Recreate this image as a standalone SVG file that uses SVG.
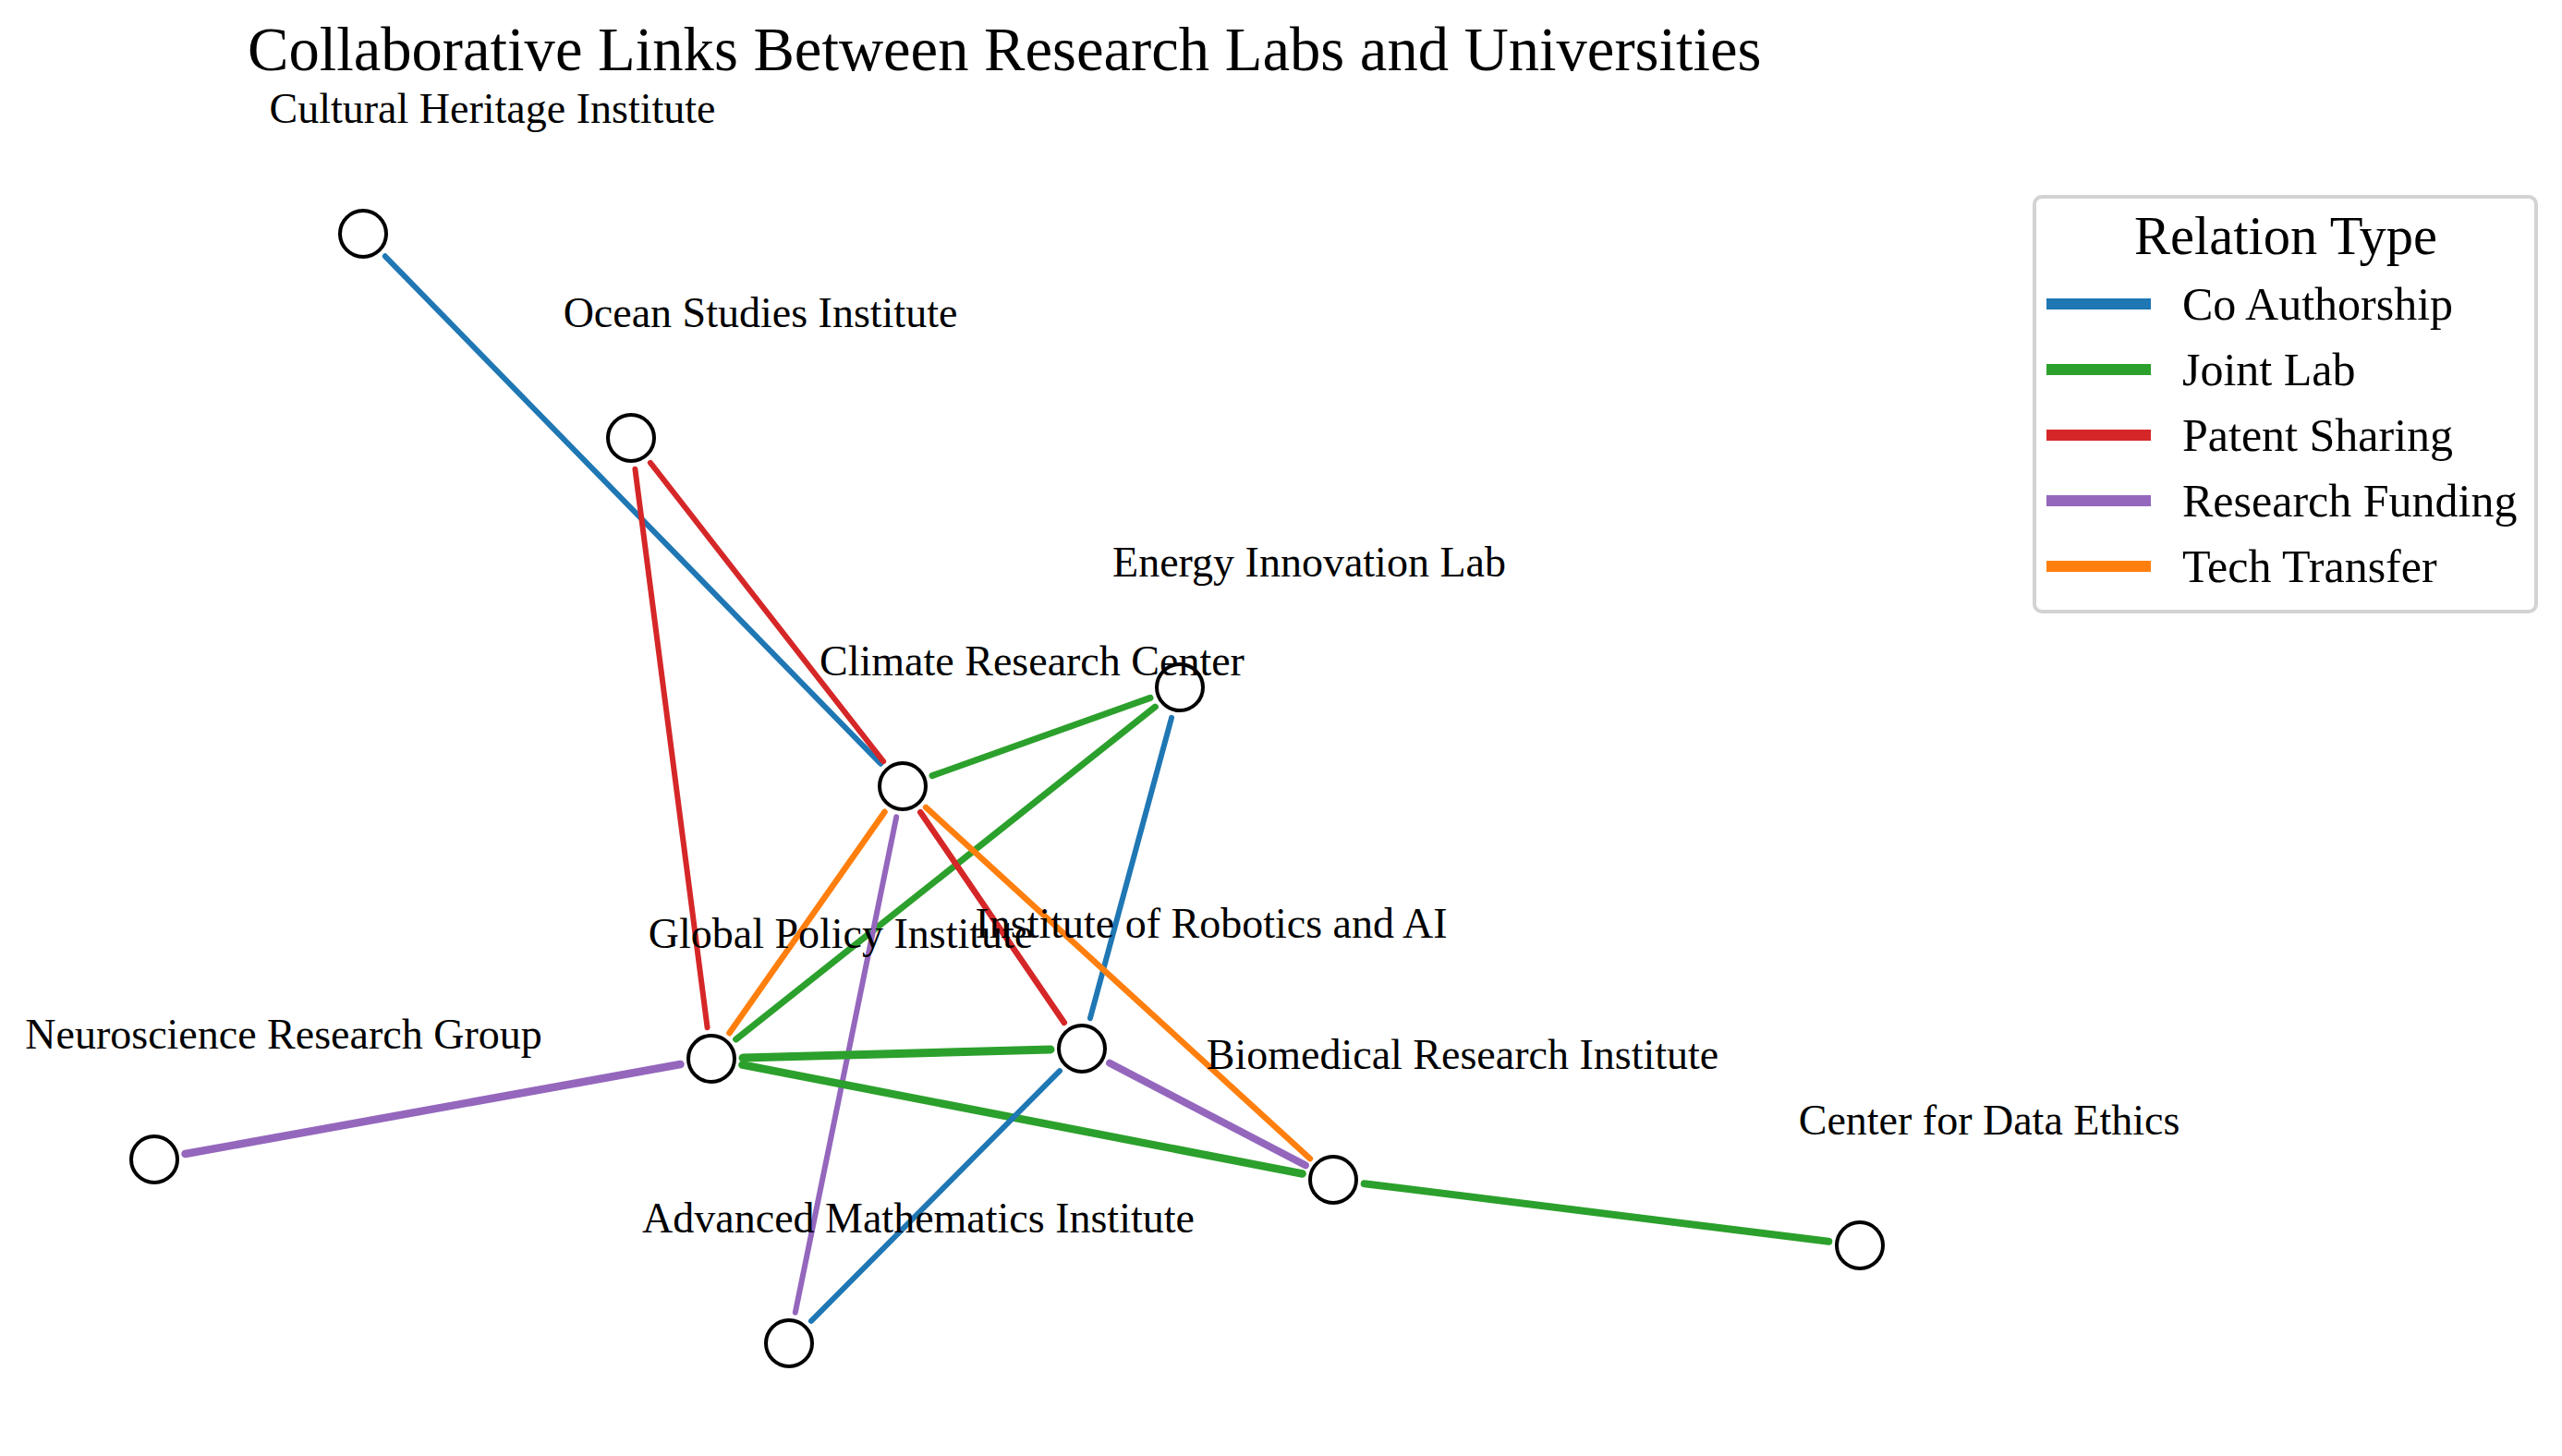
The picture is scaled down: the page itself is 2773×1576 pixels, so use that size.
<svg xmlns="http://www.w3.org/2000/svg" width="2773" height="1576" viewBox="0 0 2773 1576">
<style>
text{font-family:"Liberation Serif","Times New Roman",serif;fill:#000}
.title{font-size:66.6px}
.lbl{font-size:46px;text-anchor:middle}
.lt{font-size:58.5px;text-anchor:middle}
.li{font-size:50px}
.e{fill:none;stroke-linecap:round}
.co{stroke:#1f77b4}
.jl{stroke:#2ca02c}
.ps{stroke:#d62728}
.rf{stroke:#9467bd}
.tt{stroke:#ff7f0e}
.n{fill:#fff;stroke:#000;stroke-width:4}
.lg{stroke-width:12}
</style>
<rect width="2773" height="1576" fill="#fff"/>
<text class="title" x="268" y="76">Collaborative Links Between Research Labs and Universities</text>
<g id="connectors">
<line class="e co" stroke-width="6" x1="416.8" y1="277.3" x2="953.2" y2="826.7"/>
<line class="e ps" stroke-width="6" x1="703.9" y1="500.8" x2="956.1" y2="824.2"/>
<line class="e ps" stroke-width="6" x1="687.4" y1="507.7" x2="765.6" y2="1112.3"/>
<line class="e jl" stroke-width="7" x1="1009" y1="839.6" x2="1245" y2="755.4"/>
<line class="e jl" stroke-width="7" x1="796.6" y1="1124.9" x2="1250.4" y2="765.1"/>
<line class="e co" stroke-width="6" x1="1268.1" y1="776.8" x2="1179.9" y2="1102.2"/>
<line class="e tt" stroke-width="6.5" x1="957.5" y1="878.8" x2="789.5" y2="1118.2"/>
<line class="e rf" stroke-width="6" x1="970.2" y1="884.3" x2="860.8" y2="1420.7"/>
<line class="e ps" stroke-width="6.5" x1="996.2" y1="879.1" x2="1151.8" y2="1106.9"/>
<line class="e tt" stroke-width="6.5" x1="1002.1" y1="873.9" x2="1417.9" y2="1254.1"/>
<line class="e jl" stroke-width="9" x1="804" y1="1145.1" x2="1137" y2="1135.9"/>
<line class="e jl" stroke-width="8.5" x1="803.4" y1="1152.5" x2="1409.6" y2="1270.5"/>
<line class="e rf" stroke-width="8" x1="1201.1" y1="1150.7" x2="1412.9" y2="1261.3"/>
<line class="e co" stroke-width="6" x1="1147" y1="1159.1" x2="878" y2="1429.9"/>
<line class="e rf" stroke-width="8.5" x1="200.5" y1="1249" x2="736.5" y2="1152"/>
<line class="e jl" stroke-width="8" x1="1476.7" y1="1281.2" x2="1979.3" y2="1343.8"/>
</g>
<g id="node-cultural-heritage"><circle class="n" cx="393" cy="253" r="25"/></g>
<g id="node-ocean-studies"><circle class="n" cx="683" cy="474" r="25"/></g>
<g id="node-energy-innovation"><circle class="n" cx="1277" cy="744" r="25"/></g>
<g id="node-climate-research"><circle class="n" cx="977" cy="851" r="25"/></g>
<g id="node-global-policy"><circle class="n" cx="770" cy="1146" r="25"/></g>
<g id="node-robotics-ai"><circle class="n" cx="1171" cy="1135" r="25"/></g>
<g id="node-biomedical"><circle class="n" cx="1443" cy="1277" r="25"/></g>
<g id="node-neuroscience"><circle class="n" cx="167" cy="1255" r="25"/></g>
<g id="node-data-ethics"><circle class="n" cx="2013" cy="1348" r="25"/></g>
<g id="node-advanced-math"><circle class="n" cx="854" cy="1454" r="25"/></g>
<g id="labels">
<text class="lbl" x="533" y="133">Cultural Heritage Institute</text>
<text class="lbl" x="823" y="354">Ocean Studies Institute</text>
<text class="lbl" x="1417" y="624">Energy Innovation Lab</text>
<text class="lbl" x="1117" y="731">Climate Research Center</text>
<text class="lbl" x="910" y="1026">Global Policy Institute</text>
<text class="lbl" x="1311" y="1015">Institute of Robotics and AI</text>
<text class="lbl" x="1583" y="1157">Biomedical Research Institute</text>
<text class="lbl" x="307" y="1135">Neuroscience Research Group</text>
<text class="lbl" x="2153" y="1228">Center for Data Ethics</text>
<text class="lbl" x="994" y="1334">Advanced Mathematics Institute</text>
</g>
<g id="legend">
<rect x="2202" y="213" width="543" height="449" rx="8" fill="#fff" stroke="#d3d3d3" stroke-width="4"/>
<text class="lt" x="2474" y="275">Relation Type</text>
<line class="lg" x1="2215" y1="329" x2="2328" y2="329" stroke="#1f77b4"/>
<text class="li" x="2362" y="346">Co Authorship</text>
<line class="lg" x1="2215" y1="400" x2="2328" y2="400" stroke="#2ca02c"/>
<text class="li" x="2362" y="417">Joint Lab</text>
<line class="lg" x1="2215" y1="471" x2="2328" y2="471" stroke="#d62728"/>
<text class="li" x="2362" y="488">Patent Sharing</text>
<line class="lg" x1="2215" y1="542" x2="2328" y2="542" stroke="#9467bd"/>
<text class="li" x="2362" y="559">Research Funding</text>
<line class="lg" x1="2215" y1="613" x2="2328" y2="613" stroke="#ff7f0e"/>
<text class="li" x="2362" y="630">Tech Transfer</text>
</g>
</svg>
